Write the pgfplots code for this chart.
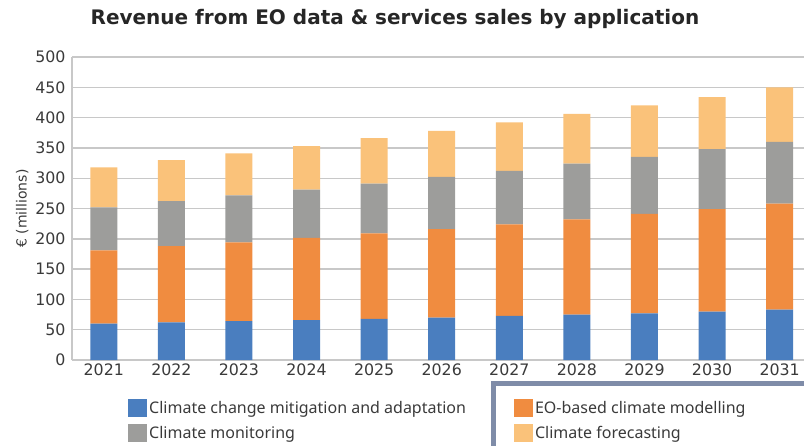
\documentclass[border=0pt]{standalone}
\usepackage{pgfplots}
\pgfplotsset{compat=1.18}
\usepackage{fontspec}
\setmainfont{DejaVu Sans}
\newfontfamily\legfont{Noto Sans}

\definecolor{cBlue}{HTML}{4A7EBF}
\definecolor{cOrange}{HTML}{F08C40}
\definecolor{cGray}{HTML}{9D9D9B}
\definecolor{cLight}{HTML}{FAC27A}
\definecolor{cGrid}{HTML}{C8C8C8}
\definecolor{cText}{HTML}{3A3A3A}
\definecolor{cFrame}{HTML}{7F8CA8}

\begin{document}
\begin{tikzpicture}
\useasboundingbox (-72pt,-85pt) rectangle (732pt,360pt);
\begin{axis}[
  scale only axis,
  width=732pt, height=303pt,
  ybar stacked,
  bar width=27pt,
  xmin=-0.47, xmax=10.36,
  ymin=0, ymax=500,
  ytick={0,50,...,500},
  xtick={0,...,10},
  xticklabels={2021,2022,2023,2024,2025,2026,2027,2028,2029,2030,2031},
  ymajorgrids,
  grid style={cGrid, line width=1.4pt},
  axis x line*=bottom,
  axis y line*=left,
  axis line style={cGrid, line width=1.2pt},
  major tick length=0pt,
  tick label style={font=\fontsize{15.8}{18}\selectfont, text=cText},
  /pgf/number format/assume math mode=true,
  yticklabel style={xshift=-3pt},
  ylabel={€ (millions)},
  ylabel style={font=\fontsize{14}{17}\selectfont, text=cText},
  legend columns=2,
  legend cell align=left,
  legend style={draw=none, fill=none, inner sep=0pt,
    at={(56pt,-39pt)}, anchor=north west,
    font=\legfont\fontsize{16}{19}\selectfont,
    text=cText,
    /tikz/every even column/.append style={column sep=46pt},
    row sep=7pt},
  legend image code/.code={\fill[#1] (0pt,-9pt) rectangle (19pt,9pt);},
  clip=false,
]
\addplot[fill=cBlue, draw=none] coordinates {(0,60) (1,62) (2,64) (3,66) (4,68) (5,70) (6,73) (7,75) (8,77) (9,80) (10,83)};
\addplot[fill=cOrange, draw=none] coordinates {(0,121) (1,126) (2,130) (3,135.5) (4,141) (5,146) (6,151) (7,157) (8,164) (9,169) (10,175)};
\addplot[fill=cGray, draw=none] coordinates {(0,71) (1,74) (2,77.5) (3,79.5) (4,82) (5,86) (6,88) (7,92) (8,94) (9,99) (10,102)};
\addplot[fill=cLight, draw=none] coordinates {(0,66) (1,68) (2,69.5) (3,72) (4,75) (5,76) (6,80) (7,82) (8,85) (9,86) (10,90)};
\legend{Climate change mitigation and adaptation, EO-based climate modelling, Climate monitoring, Climate forecasting}
\end{axis}
\node[font=\bfseries\fontsize{20}{24}\selectfont, text=black!85] at (323pt,341pt) {Revenue from EO data \& services sales by application};
\draw[cFrame, line width=5pt] (421pt,-90pt) -- (421pt,-23pt) -- (740pt,-23pt);
\end{tikzpicture}
\end{document}
